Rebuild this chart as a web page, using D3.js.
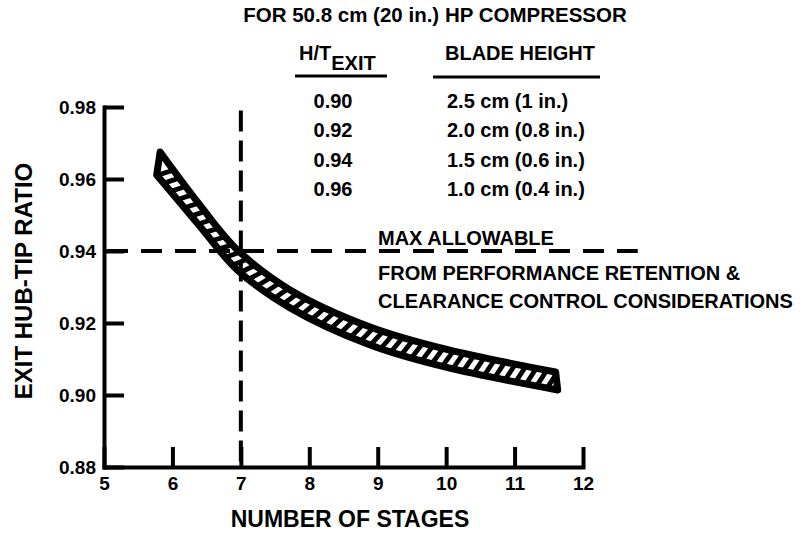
<!DOCTYPE html>
<html><head><meta charset="utf-8">
<script src="https://cdn.jsdelivr.net/npm/d3@7"></script>
<style>
body{margin:0;background:#fff}
svg{display:block}
text{font-family:"Liberation Sans",Arial,sans-serif;font-weight:bold;fill:#000}
</style>
</head><body>
<svg id="c" width="807" height="537"></svg>
<script>
// ---------- data ----------
const stageTicks = [5, 6, 7, 8, 9, 10, 11, 12];
const ratioTicks = [0.88, 0.90, 0.92, 0.94, 0.96, 0.98];
const upperStages = [5.82, 6.40, 6.95, 7.72, 8.89, 9.98, 11.60];
const upperRatio  = [0.9675, 0.9528, 0.9403, 0.9292, 0.9189, 0.9128, 0.9064];
const lowerStages = [5.77, 6.40, 6.95, 7.72, 8.89, 9.98, 11.63];
const lowerRatio  = [0.9611, 0.9469, 0.9347, 0.9242, 0.9139, 0.9078, 0.9014];
const maxAllowableRatio = 0.94;
const maxLineEndStage = 12.8;
const selectedStages = 7;
const selectedLineTopRatio = 0.979;
const tableRatios = ["0.90", "0.92", "0.94", "0.96"];
const tableBladeHeights = ["2.5 cm (1 in.)", "2.0 cm (0.8 in.)", "1.5 cm (0.6 in.)", "1.0 cm (0.4 in.)"];
const titleText = "FOR 50.8 cm (20 in.) HP COMPRESSOR";
const noteLines = ["MAX ALLOWABLE", "FROM PERFORMANCE RETENTION &", "CLEARANCE CONTROL CONSIDERATIONS"];
const xTitle = "NUMBER OF STAGES";
const yTitle = "EXIT HUB-TIP RATIO";

// ---------- setup ----------
const svg = d3.select("#c");
const FONT = '"Liberation Sans", Arial, sans-serif';
const x = d3.scaleLinear().domain([5, 12]).range([104, 583]);
const y = d3.scaleLinear().domain([0.88, 0.98]).range([467, 107]);

// ---------- reference dashed lines ----------
svg.append("line")
  .attr("x1", x(5) + 3).attr("x2", x(maxLineEndStage))
  .attr("y1", y(maxAllowableRatio)).attr("y2", y(maxAllowableRatio))
  .attr("stroke", "#000").attr("stroke-width", 4).attr("stroke-dasharray", "21 13");
svg.append("line")
  .attr("x1", x(selectedStages)).attr("x2", x(selectedStages))
  .attr("y1", y(selectedLineTopRatio)).attr("y2", y(0.88))
  .attr("stroke", "#000").attr("stroke-width", 4).attr("stroke-dasharray", "21 9");

// ---------- band ----------
const line = d3.line().curve(d3.curveCatmullRom.alpha(0.5));
const up = upperStages.map((s, i) => [x(s), y(upperRatio[i])]);
const lo = lowerStages.map((s, i) => [x(s), y(lowerRatio[i])]);
const bandD = line(up) + "L" + line(lo.slice().reverse()).slice(1) + "Z";

const defs = svg.append("defs");
defs.append("clipPath").attr("id", "bandClip").append("path").attr("d", bandD);

const guide = svg.append("path").attr("d", line(lo)).attr("fill", "none").attr("stroke", "none");
const node = guide.node();
const L = node.getTotalLength();
const nH = 44;
const ang = 22 * Math.PI / 180;
const hatchG = svg.append("g").attr("clip-path", "url(#bandClip)");
for (let k = 0; k <= nH; k++) {
  const s = Math.min(L - 0.5, Math.max(0.5, k * L / nH));
  const p = node.getPointAtLength(s);
  const a = node.getPointAtLength(Math.max(0, s - 1));
  const b = node.getPointAtLength(Math.min(L, s + 1));
  let tx = b.x - a.x, ty = b.y - a.y;
  const tl = Math.hypot(tx, ty); tx /= tl; ty /= tl;
  const nx = ty, ny = -tx;
  const dx = Math.cos(ang) * nx + Math.sin(ang) * tx;
  const dy = Math.cos(ang) * ny + Math.sin(ang) * ty;
  hatchG.append("line")
    .attr("x1", p.x - dx * 6).attr("y1", p.y - dy * 6)
    .attr("x2", p.x + dx * 45).attr("y2", p.y + dy * 45)
    .attr("stroke", "#000").attr("stroke-width", 4.8);
}
guide.remove();
svg.append("path").attr("d", bandD)
  .attr("fill", "none").attr("stroke", "#000").attr("stroke-width", 7)
  .attr("stroke-linejoin", "round");

// ---------- axes ----------
const gy = svg.append("g").attr("transform", `translate(${x(5)},0)`)
  .call(d3.axisLeft(y).tickValues(ratioTicks).tickFormat(d3.format(".2f"))
    .tickSizeInner(-20).tickSizeOuter(0).tickPadding(8));
const gx = svg.append("g").attr("transform", `translate(0,${y(0.88)})`)
  .call(d3.axisBottom(x).tickValues(stageTicks).tickFormat(d3.format("d"))
    .tickSizeInner(-20).tickSizeOuter(0).tickPadding(10));
[gx, gy].forEach(g => {
  g.attr("font-family", FONT).attr("font-size", 19).attr("font-weight", "bold");
  g.select(".domain").attr("stroke", "#000").attr("stroke-width", 4).attr("stroke-linecap", "square");
  g.selectAll(".tick line").attr("stroke", "#000").attr("stroke-width", 4);
  g.selectAll(".tick text").attr("fill", "#000");
});

// ---------- axis titles ----------
svg.append("text").attr("x", 350).attr("y", 527).attr("text-anchor", "middle")
  .attr("font-size", 23).text(xTitle);
svg.append("text").attr("transform", "translate(32,281) rotate(-90)").attr("text-anchor", "middle")
  .attr("font-size", 24).text(yTitle);

// ---------- title & table ----------
svg.append("text").attr("x", 435).attr("y", 22).attr("text-anchor", "middle")
  .attr("font-size", 20.5).text(titleText);

const hdr = svg.append("text").attr("x", 299).attr("y", 60).attr("font-size", 20);
hdr.append("tspan").text("H/T");
hdr.append("tspan").attr("dy", 10).text("EXIT");
svg.append("line").attr("x1", 295).attr("x2", 387).attr("y1", 76).attr("y2", 76)
  .attr("stroke", "#000").attr("stroke-width", 3);
svg.append("text").attr("x", 445).attr("y", 60).attr("font-size", 20).text("BLADE HEIGHT");
svg.append("line").attr("x1", 433).attr("x2", 600).attr("y1", 77).attr("y2", 77)
  .attr("stroke", "#000").attr("stroke-width", 3);

tableRatios.forEach((r, i) => {
  const yy = 108 + i * 29.3;
  svg.append("text").attr("x", 333).attr("y", yy).attr("text-anchor", "middle")
    .attr("font-size", 20).text(r);
  svg.append("text").attr("x", 447).attr("y", yy).attr("font-size", 20).text(tableBladeHeights[i]);
});

// ---------- note ----------
const noteY = [245, 280, 308];
noteLines.forEach((t, i) => {
  svg.append("text").attr("x", 378).attr("y", noteY[i]).attr("font-size", 20).text(t);
});
</script>
</body></html>
